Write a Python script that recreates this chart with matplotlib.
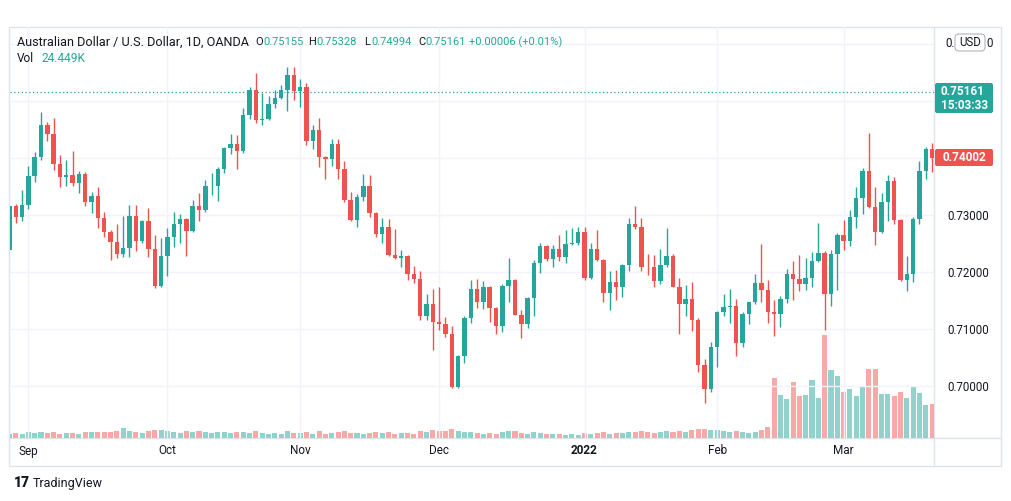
import matplotlib
matplotlib.use("Agg")
import matplotlib.pyplot as plt
from matplotlib.patches import FancyBboxPatch, Rectangle
import numpy as np

# AUD/USD daily, Aug 27 2021 .. Mar 21 2022 (index = trading day)
opens = [0.7239, 0.7315, 0.7297, 0.7317, 0.7368, 0.7401, 0.7458, 0.7442, 0.7389, 0.7366,
         0.7370, 0.7356, 0.7372, 0.7322, 0.7334, 0.7294, 0.7271, 0.7253, 0.7232, 0.7242,
         0.7298, 0.7255, 0.7289, 0.7240, 0.7176, 0.7228, 0.7262, 0.7284, 0.7293, 0.7272,
         0.7315, 0.7308, 0.7350, 0.7351, 0.7381, 0.7417, 0.7425, 0.7413, 0.7475, 0.7519,
         0.7467, 0.7469, 0.7495, 0.7506, 0.7519, 0.7546, 0.7518, 0.7524, 0.7430, 0.7449,
         0.7401, 0.7399, 0.7424, 0.7380, 0.7326, 0.7292, 0.7332, 0.7350, 0.7304, 0.7267,
         0.7279, 0.7230, 0.7224, 0.7228, 0.7196, 0.7188, 0.7122, 0.7144, 0.7113, 0.7108,
         0.7091, 0.6999, 0.7053, 0.7120, 0.7171, 0.7148, 0.7173, 0.7136, 0.7105, 0.7175,
         0.7186, 0.7125, 0.7109, 0.7155, 0.7216, 0.7246, 0.7222, 0.7240, 0.7227, 0.7249,
         0.7251, 0.7270, 0.7189, 0.7240, 0.7221, 0.7164, 0.7183, 0.7174, 0.7212, 0.7285,
         0.7279, 0.7209, 0.7208, 0.7184, 0.7212, 0.7228, 0.7174, 0.7144, 0.7153, 0.7116,
         0.7036, 0.6995, 0.7069, 0.7130, 0.7139, 0.7140, 0.7076, 0.7126, 0.7147, 0.7180,
         0.7168, 0.7130, 0.7127, 0.7152, 0.7196, 0.7188, 0.7179, 0.7189, 0.7219, 0.7234,
         0.7161, 0.7231, 0.7265, 0.7255, 0.7297, 0.7329, 0.7377, 0.7314, 0.7271, 0.7323,
         0.7360, 0.7292, 0.7186, 0.7196, 0.7293, 0.7377, 0.7415]
highs = [0.7318, 0.7319, 0.7343, 0.7386, 0.7411, 0.7480, 0.7464, 0.7470, 0.7405, 0.7396,
         0.7412, 0.7378, 0.7376, 0.7340, 0.7349, 0.7306, 0.7273, 0.7284, 0.7298, 0.7318,
         0.7318, 0.7292, 0.7313, 0.7265, 0.7259, 0.7277, 0.7305, 0.7302, 0.7295, 0.7326,
         0.7339, 0.7361, 0.7373, 0.7385, 0.7419, 0.7442, 0.7440, 0.7487, 0.7525, 0.7549,
         0.7514, 0.7508, 0.7519, 0.7528, 0.7559, 0.7559, 0.7538, 0.7531, 0.7458, 0.7471,
         0.7403, 0.7433, 0.7434, 0.7395, 0.7341, 0.7336, 0.7372, 0.7370, 0.7306, 0.7295,
         0.7293, 0.7275, 0.7239, 0.7230, 0.7211, 0.7201, 0.7161, 0.7171, 0.7174, 0.7121,
         0.7105, 0.7054, 0.7123, 0.7186, 0.7188, 0.7185, 0.7176, 0.7139, 0.7179, 0.7224,
         0.7187, 0.7133, 0.7157, 0.7221, 0.7251, 0.7247, 0.7247, 0.7265, 0.7274, 0.7277,
         0.7279, 0.7279, 0.7251, 0.7274, 0.7223, 0.7202, 0.7204, 0.7214, 0.7294, 0.7316,
         0.7295, 0.7231, 0.7230, 0.7240, 0.7277, 0.7232, 0.7189, 0.7177, 0.7182, 0.7120,
         0.7047, 0.7077, 0.7131, 0.7161, 0.7170, 0.7152, 0.7130, 0.7148, 0.7196, 0.7249,
         0.7186, 0.7151, 0.7158, 0.7206, 0.7219, 0.7230, 0.7225, 0.7235, 0.7286, 0.7236,
         0.7239, 0.7268, 0.7292, 0.7309, 0.7349, 0.7383, 0.7444, 0.7349, 0.7338, 0.7370,
         0.7367, 0.7293, 0.7228, 0.7297, 0.7395, 0.7420, 0.7427]
lows = [0.7237, 0.7286, 0.7290, 0.7311, 0.7358, 0.7396, 0.7429, 0.7379, 0.7349, 0.7351,
        0.7351, 0.7339, 0.7316, 0.7304, 0.7277, 0.7262, 0.7221, 0.7224, 0.7227, 0.7226,
        0.7237, 0.7250, 0.7227, 0.7172, 0.7174, 0.7193, 0.7244, 0.7250, 0.7228, 0.7271,
        0.7290, 0.7306, 0.7335, 0.7325, 0.7374, 0.7407, 0.7381, 0.7409, 0.7468, 0.7462,
        0.7458, 0.7467, 0.7487, 0.7504, 0.7483, 0.7502, 0.7490, 0.7423, 0.7415, 0.7384,
        0.7363, 0.7386, 0.7364, 0.7323, 0.7290, 0.7279, 0.7325, 0.7296, 0.7261, 0.7251,
        0.7228, 0.7223, 0.7209, 0.7186, 0.7181, 0.7115, 0.7115, 0.7064, 0.7098, 0.7086,
        0.6996, 0.6996, 0.7041, 0.7110, 0.7136, 0.7135, 0.7113, 0.7092, 0.7094, 0.7148,
        0.7124, 0.7085, 0.7101, 0.7123, 0.7199, 0.7220, 0.7208, 0.7219, 0.7215, 0.7247,
        0.7247, 0.7186, 0.7188, 0.7219, 0.7148, 0.7133, 0.7150, 0.7157, 0.7202, 0.7275,
        0.7201, 0.7195, 0.7173, 0.7179, 0.7208, 0.7173, 0.7092, 0.7123, 0.7097, 0.7025,
        0.6970, 0.6989, 0.7034, 0.7123, 0.7111, 0.7053, 0.7068, 0.7108, 0.7144, 0.7148,
        0.7111, 0.7088, 0.7104, 0.7145, 0.7151, 0.7167, 0.7168, 0.7174, 0.7218, 0.7098,
        0.7141, 0.7168, 0.7239, 0.7246, 0.7277, 0.7301, 0.7312, 0.7247, 0.7268, 0.7290,
        0.7285, 0.7185, 0.7167, 0.7183, 0.7285, 0.7364, 0.7376]
closes = [0.7315, 0.7297, 0.7317, 0.7368, 0.7401, 0.7458, 0.7442, 0.7389, 0.7366, 0.7370,
          0.7356, 0.7372, 0.7322, 0.7334, 0.7294, 0.7271, 0.7253, 0.7232, 0.7242, 0.7298,
          0.7255, 0.7289, 0.7240, 0.7176, 0.7228, 0.7262, 0.7284, 0.7293, 0.7272, 0.7315,
          0.7308, 0.7350, 0.7351, 0.7381, 0.7417, 0.7425, 0.7413, 0.7475, 0.7519, 0.7467,
          0.7469, 0.7495, 0.7506, 0.7519, 0.7546, 0.7518, 0.7524, 0.7430, 0.7449, 0.7401,
          0.7399, 0.7424, 0.7380, 0.7326, 0.7292, 0.7332, 0.7350, 0.7304, 0.7267, 0.7279,
          0.7230, 0.7224, 0.7228, 0.7196, 0.7188, 0.7122, 0.7144, 0.7113, 0.7108, 0.7091,
          0.6999, 0.7053, 0.7120, 0.7171, 0.7148, 0.7173, 0.7136, 0.7105, 0.7175, 0.7186,
          0.7125, 0.7109, 0.7155, 0.7216, 0.7246, 0.7222, 0.7240, 0.7227, 0.7249, 0.7251,
          0.7270, 0.7189, 0.7240, 0.7221, 0.7164, 0.7183, 0.7174, 0.7212, 0.7285, 0.7279,
          0.7209, 0.7208, 0.7184, 0.7212, 0.7228, 0.7174, 0.7144, 0.7153, 0.7116, 0.7036,
          0.6995, 0.7069, 0.7130, 0.7139, 0.7140, 0.7076, 0.7126, 0.7147, 0.7180, 0.7168,
          0.7130, 0.7127, 0.7152, 0.7196, 0.7188, 0.7179, 0.7189, 0.7219, 0.7234, 0.7161,
          0.7231, 0.7265, 0.7255, 0.7297, 0.7329, 0.7377, 0.7314, 0.7271, 0.7323, 0.7360,
          0.7292, 0.7186, 0.7196, 0.7293, 0.7377, 0.7415, 0.74002]
volumes = [3.2, 3.6, 3.2, 4.0, 3.6, 4.3, 3.6, 4.0, 3.2, 3.6,
           3.6, 3.2, 4.3, 4.0, 4.3, 4.0, 4.3, 5.0, 7.2, 5.0,
           4.3, 3.6, 5.4, 5.8, 6.1, 5.4, 4.3, 3.6, 4.7, 4.0,
           5.0, 4.3, 3.6, 4.0, 4.3, 3.6, 4.0, 4.3, 3.6, 4.7,
           3.6, 3.2, 3.6, 3.2, 4.7, 3.6, 3.6, 4.0, 3.2, 4.7,
           3.2, 3.6, 4.0, 4.7, 3.6, 3.6, 3.2, 3.6, 4.3, 3.6,
           4.0, 3.2, 3.6, 3.6, 3.2, 5.0, 4.3, 6.1, 5.4, 5.0,
           6.5, 5.4, 4.0, 4.3, 3.6, 3.2, 3.6, 3.2, 4.0, 4.7,
           4.7, 3.6, 3.2, 4.3, 3.6, 2.9, 3.2, 2.9, 2.5, 2.9,
           2.5, 3.6, 3.2, 3.6, 4.0, 3.2, 3.6, 3.6, 4.3, 4.0,
           4.7, 4.0, 3.6, 4.3, 4.7, 4.3, 5.0, 4.3, 5.8, 6.5,
           6.8, 6.1, 5.8, 4.7, 4.3, 5.0, 4.3, 3.6, 4.3, 5.8,
           7.9, 43.4, 31.0, 28.1, 40.3, 30.2, 31.0, 41.8, 29.0, 74.2,
           49.0, 44.6, 33.1, 35.5, 30.2, 36.9, 49.9, 49.9, 31.7, 31.7,
           30.2, 33.1, 29.0, 37.4, 32.6, 23.8, 24.45]

month_idx = [3, 25, 46, 68, 91, 112, 132]
month_labels = ["Sep", "Oct", "Nov", "Dec", "2022", "Feb", "Mar"]
price_ticks = [0.70, 0.71, 0.72, 0.73, 0.74, 0.75, 0.76]
# 0.74 / 0.75 / 0.76 labels sit under the price badges in the reference
shown_ticks = [0.70, 0.71, 0.72, 0.73]
last_price = 0.75161
current_price = 0.74002

UP, DOWN = "#26a69a", "#ef5350"
TXT = "#131722"
GRID = "#f0f3fa"
BORDER = "#e0e3eb"
W, H = 1012, 501


def fx(px):
    return px / W


def fy(py):
    return 1 - py / H


fig = plt.figure(figsize=(W / 100, H / 100), dpi=100)
plt.rcParams["font.family"] = ["Roboto", "DejaVu Sans"]

ax = fig.add_axes([fx(10), fy(438), (934 - 10) / W, (438 - 27) / H])
vax = ax.twinx()
ax.set_zorder(vax.get_zorder() + 1)
ax.patch.set_visible(False)

o = np.array(opens)
h = np.array(highs)
l = np.array(lows)
c = np.array(closes)
x = np.arange(len(o))
up = c >= o
cols = np.where(up, UP, DOWN)

# volume
vcols = np.where(up, "#92d2cc", "#f7a9a7")
vax.bar(x, volumes, width=0.8, color=vcols, linewidth=0)
vax.set_ylim(0, 296)
vax.set_yticks([])

# grid
for p in price_ticks:
    ax.axhline(p, color=GRID, lw=1, zorder=0)
for m in month_idx:
    ax.axvline(m, color=GRID, lw=1, zorder=0)

# candles
ax.vlines(x, l, h, colors=cols, lw=1.0, zorder=2)
body = np.maximum(np.abs(c - o), 0.00004)
ax.bar(x, body, bottom=np.minimum(o, c), width=0.7, color=cols, linewidth=0, zorder=3)

ax.axhline(last_price, color=UP, lw=0.9, linestyle=(0, (1, 2)), zorder=1)

ax.set_xlim(0.095, 146.3)
ax.set_ylim(0.690877, 0.762982)
ax.set_xticks([])
ax.yaxis.tick_right()
ax.set_yticks(shown_ticks)
ax.set_yticklabels([f"{p:.5f}" for p in shown_ticks])
ax.tick_params(axis="y", length=0, pad=9.4, labelsize=8.3, labelcolor=TXT)
for a in (ax, vax):
    for s in a.spines.values():
        s.set_visible(False)

# frame lines
frame = fig.add_axes([0, 0, 1, 1], zorder=-5)
frame.set_xlim(0, W)
frame.set_ylim(H, 0)
frame.axis("off")
frame.add_patch(Rectangle((9, 27), 992, 439, fill=False, ec=BORDER, lw=1))
frame.plot([934, 934], [27, 466], color=BORDER, lw=1)
frame.plot([9, 1001], [438, 438], color=BORDER, lw=1)

# time axis labels
for m, lab in zip(month_idx, month_labels):
    xp = ax.transData.transform((m, 0))[0] / fig.dpi / fig.get_figwidth()
    fig.text(xp, fy(451), lab, ha="center", va="center", fontsize=8.5, color=TXT,
             fontweight="bold" if lab == "2022" else "normal")

# header
fig.text(fx(17), fy(42), "Australian Dollar / U.S. Dollar, 1D, OANDA", fontsize=9.1,
         color=TXT, va="center")
parts = [(255, "O", TXT), (263, "0.75155", UP), (308, "H", TXT), (316, "0.75328", UP),
         (364, "L", TXT), (371, "0.74994", UP), (418, "C", TXT), (425, "0.75161", UP),
         (469, "+0.00006 (+0.01%)", UP)]
for px, s, col in parts:
    fig.text(fx(px), fy(42), s, fontsize=8.0, color=col, va="center")
fig.text(fx(17), fy(58), "Vol", fontsize=8.6, color=TXT, va="center")
fig.text(fx(41), fy(58), "24.449K", fontsize=8.6, color=UP, va="center")

# price labels on the scale
over = fig.add_axes([0, 0, 1, 1], zorder=10)
over.set_xlim(0, W)
over.set_ylim(H, 0)
over.axis("off")
over.add_patch(FancyBboxPatch((935, 83), 58, 30, boxstyle="round,pad=0,rounding_size=2",
                              fc=UP, ec="none"))
over.text(941, 91.5, f"{last_price:.5f}", color="white", fontsize=8.5, fontweight="bold", va="center")
over.text(941, 105, "15:03:33", color="white", fontsize=8.5, fontweight="bold", va="center")
over.add_patch(FancyBboxPatch((935, 149), 58, 17, boxstyle="round,pad=0,rounding_size=2",
                              fc=DOWN, ec="none"))
over.text(943, 157.5, f"{current_price:.5f}", color="white", fontsize=8.5, fontweight="bold", va="center")
# top scale label 0.76000, mostly hidden by the currency button
over.text(945, 43, "0.", color=TXT, fontsize=8.3, va="center")
over.text(986, 43, "0", color=TXT, fontsize=8.3, va="center")
over.add_patch(FancyBboxPatch((955, 34), 30, 17, boxstyle="round,pad=0,rounding_size=4",
                              fc="white", ec="#b2b5be", lw=0.8))
over.text(970, 42.5, "USD", color=TXT, fontsize=8.3, ha="center", va="center")

# logo
over.text(14, 483, "17", fontsize=10, fontweight="heavy", color=TXT, va="center")
over.text(33, 483, "TradingView", fontsize=9, color=TXT, va="center")

fig.savefig("out.png", dpi=100, facecolor="white")
